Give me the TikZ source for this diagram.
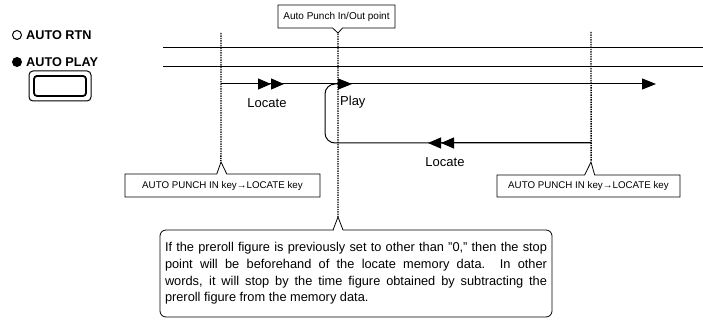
\documentclass[tikz,border=0pt]{standalone}
\usepackage{fontspec}
\setmainfont{Liberation Sans}
\usetikzlibrary{arrows.meta,shapes.callouts}

\tikzset{
  rail/.style={line width=1pt},
  dotline/.style={line width=1.4pt, densely dotted},
  callbox/.style={rectangle callout, draw, line width=0.8pt, callout pointer width=10pt,
    inner sep=2pt, font=\fontsize{9.75}{11}\selectfont},
  fwd/.style={-{Triangle[length=14pt,width=11pt]}},
  fwdtwo/.style={-{Triangle[length=13pt,width=11pt]Triangle[length=13pt,width=11pt]}},
  lbl/.style={font=\fontsize{13}{15}\selectfont, inner sep=0pt},
  keylbl/.style={font=\fontsize{12.7}{15}\bfseries\selectfont, inner sep=0pt, anchor=west}
}

\begin{document}
\begin{tikzpicture}[x=1pt,y=-1pt]
  \useasboundingbox (0,0) rectangle (703,323);

  % panel keys
  \node[circle, draw, line width=1pt, minimum size=9pt, inner sep=0pt] (rtnled) at (17,35) {};
  \node[keylbl] (rtn) at (26,35) {AUTO RTN};
  \node[circle, fill, minimum size=10pt, inner sep=0pt] (playled) at (17,62) {};
  \node[keylbl] (play) at (26,62) {AUTO PLAY};
  \draw[line width=1pt, rounded corners=4pt] (29,71) rectangle (91,101);
  \draw[line width=1.8pt, rounded corners=3pt] (34,76) rectangle (86,96);

  % tracks
  \coordinate (l1a) at (163,48);
  \coordinate (l1b) at (703,48);
  \coordinate (l2a) at (163,67);
  \coordinate (l2b) at (703,67);
  \draw[rail] (l1a) -- (l1b);
  \draw[rail] (l2a) -- (l2b);

  \coordinate (pin) at (221,84);
  \coordinate (pout) at (338,84);
  \coordinate (pend) at (656,84);
  \coordinate (rin) at (591,143);
  \draw[rail, fwd] (pin) -- (pend);
  \draw[rail, fwdtwo] (pin) -- (284,84);
  \draw[rail, fwd] (pout) -- (352,84);
  \draw[rail, rounded corners=10pt] (rin) -- (325,143) -- (325,84) -- (pout);
  \draw[rail, fwdtwo] (rin) -- (428,143);

  \node[lbl] (loc1) at (267,103) {Locate};
  \node[lbl, anchor=west] (plylbl) at (340,102) {Play};
  \node[lbl] (loc2) at (445,162) {Locate};

  % callouts
  \coordinate (ptop) at (338,33);
  \node[callbox, minimum width=117pt, minimum height=23pt, font=\fontsize{10}{12}\selectfont,
    callout absolute pointer={(ptop)}] (top) at (336.5,16.5) {Auto Punch In/Out point};
  \coordinate (pa) at (221,162);
  \coordinate (pb) at (591,162);
  \node[callbox, minimum width=195pt, minimum height=23pt,
    callout absolute pointer={(pa)}] (keya) at (222.5,185.5) {AUTO PUNCH IN key→LOCATE key};
  \node[callbox, minimum width=183pt, minimum height=22pt,
    callout absolute pointer={(pb)}] (keyb) at (588.5,186) {AUTO PUNCH IN key→LOCATE key};

  \node[draw, line width=0.8pt, rounded corners=6pt, minimum width=392pt, minimum height=87pt,
    text width=382pt, align=justify, inner sep=5pt,
    font=\fontsize{12.8}{16.7}\selectfont] (memo) at (356,273.5)
    {If the preroll figure is previously set to other than {\char34}0,{\char34} then the stop\linebreak
     point will be beforehand of the locate memory data.\ \ In other\linebreak
     words, it will stop by the time figure obtained by subtracting the\linebreak
     preroll figure from the memory data.};
  \coordinate (pm) at (338,217);
  \draw[white, line width=2pt] (333.5,230) -- (342.5,230);
  \draw[line width=0.8pt] (333,230) -- (pm) -- (343,230);

  % dotted markers
  \coordinate (ta) at (221,33);
  \coordinate (tb) at (591,32);
  \draw[dotline] (ta) -- (keya.pointer);
  \draw[dotline] (tb) -- (keyb.pointer);
  \draw[dotline] (top.pointer) -- (pm);
\end{tikzpicture}
\end{document}
